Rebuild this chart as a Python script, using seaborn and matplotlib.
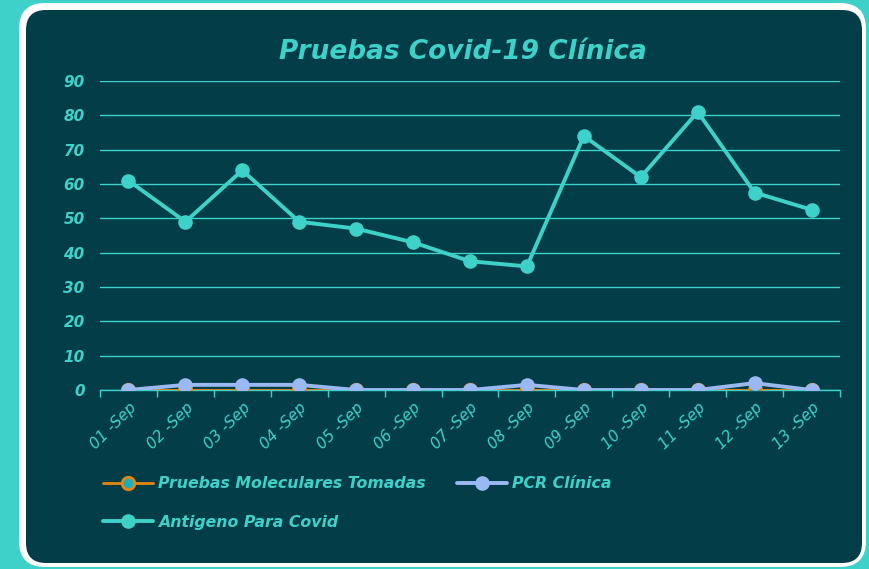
import matplotlib.pyplot as plt
import seaborn as sns
import pandas as pd
from matplotlib.patches import FancyBboxPatch

# data
dias = ["01-Sep", "02-Sep", "03-Sep", "04-Sep", "05-Sep", "06-Sep", "07-Sep",
        "08-Sep", "09-Sep", "10-Sep", "11-Sep", "12-Sep", "13-Sep"]
moleculares = [0, 0, 0, 0, 0, 0, 0, 0, 0, 0, 0, 0, 0]
pcr = [0, 1.5, 1.5, 1.5, 0, 0, 0, 1.5, 0, 0, 0, 2, 0]
antigeno = [61, 49, 64, 49, 47, 43, 37.5, 36, 74, 62, 81, 57.5, 52.5]
xlabels = ["01 -Sep", "02 -Sep", "03 -Sep", "04 -Sep", "05 -Sep", "06 -Sep", "07 -Sep",
           "08 -Sep", "09 -Sep", "10 -Sep", "11 -Sep", "12 -Sep", "13 -Sep"]

df = pd.DataFrame({"Dia": dias, "Mol": moleculares, "PCR": pcr, "Ant": antigeno})

BG = "#033e48"
TURQ = "#3ed1c9"
LAV = "#9ab8f2"
ORANGE = "#e8850f"

sns.set_style("white")
plt.rcParams["font.family"] = ["DejaVu Sans"]

fig = plt.figure(figsize=(8.69, 5.69), dpi=100)
fig.patch.set_facecolor(TURQ)

# white frame and dark panel (pixel coords, origin bottom-left)
frame = FancyBboxPatch((19 + 26, 2 + 26), 847 - 52, 564 - 52,
                       boxstyle="round,pad=26", transform=None,
                       facecolor="white", edgecolor="none", zorder=0)
panel = FancyBboxPatch((26 + 20, 6 + 20), 836 - 40, 553 - 40,
                       boxstyle="round,pad=20", transform=None,
                       facecolor=BG, edgecolor="none", zorder=0)
fig.patches.extend([frame, panel])

ax = fig.add_axes([100 / 869, 179 / 569, 740 / 869, 309 / 569])
ax.set_zorder(2)
ax.patch.set_alpha(0)

sns.lineplot(data=df, x="Dia", y="Ant", ax=ax, color=TURQ, linewidth=2.8,
             marker="o", markersize=10.5, markeredgewidth=0, label="Antigeno Para Covid",
             zorder=3)
sns.lineplot(data=df, x="Dia", y="Mol", ax=ax, color=ORANGE, linewidth=2,
             marker="o", markersize=9, markerfacecolor="#1aaebd", markeredgecolor=ORANGE,
             markeredgewidth=2, label="Pruebas Moleculares Tomadas", zorder=4)
sns.lineplot(data=df, x="Dia", y="PCR", ax=ax, color=LAV, linewidth=2.8,
             marker="o", markersize=10.5, markeredgewidth=0, label="PCR Clínica", zorder=5)

ax.set_xlim(-0.5, 12.5)
ax.set_ylim(0, 90)
ax.set_yticks(range(0, 91, 10))
ax.yaxis.grid(True, color=TURQ, linewidth=1)
ax.xaxis.grid(False)
ax.set_axisbelow(True)
for s in ["top", "right", "left"]:
    ax.spines[s].set_visible(False)
ax.spines["bottom"].set_color(TURQ)
ax.spines["bottom"].set_linewidth(1)

ax.set_xticks(range(13))
ax.set_xticklabels(xlabels, rotation=45, ha="right", rotation_mode="anchor",
                   fontsize=11, style="italic", color=TURQ)
ax.set_xticks([i - 0.5 for i in range(14)], minor=True)
ax.tick_params(axis="x", which="major", length=0, pad=7)
ax.tick_params(axis="x", which="minor", length=5, color=TURQ, width=1, bottom=True)
ax.tick_params(axis="y", length=0, pad=11)
for t in ax.get_yticklabels():
    t.set_fontsize(11)
    t.set_fontweight("bold")
    t.set_fontstyle("italic")
    t.set_color(TURQ)

ax.set_xlabel("")
ax.set_ylabel("")

fig.text(463 / 869, 1 - 52 / 569, "Pruebas Covid-19 Clínica", ha="center", va="center",
         fontsize=19, fontweight="bold", style="italic", color=TURQ)

h, l = ax.get_legend_handles_labels()
ax.get_legend().remove()
order = [1, 0, 2]
leg = fig.legend([h[i] for i in order], [l[i] for i in order], ncol=2,
                 loc="upper left", bbox_to_anchor=(89 / 869, 1 - 462 / 569),
                 frameon=False, handlelength=3.2, columnspacing=2.0,
                 labelspacing=1.5, handletextpad=0.3,
                 prop={"size": 11.3, "weight": "bold", "style": "italic"})
for t in leg.get_texts():
    t.set_color(TURQ)

plt.savefig("out.png", dpi=100, facecolor=TURQ)
